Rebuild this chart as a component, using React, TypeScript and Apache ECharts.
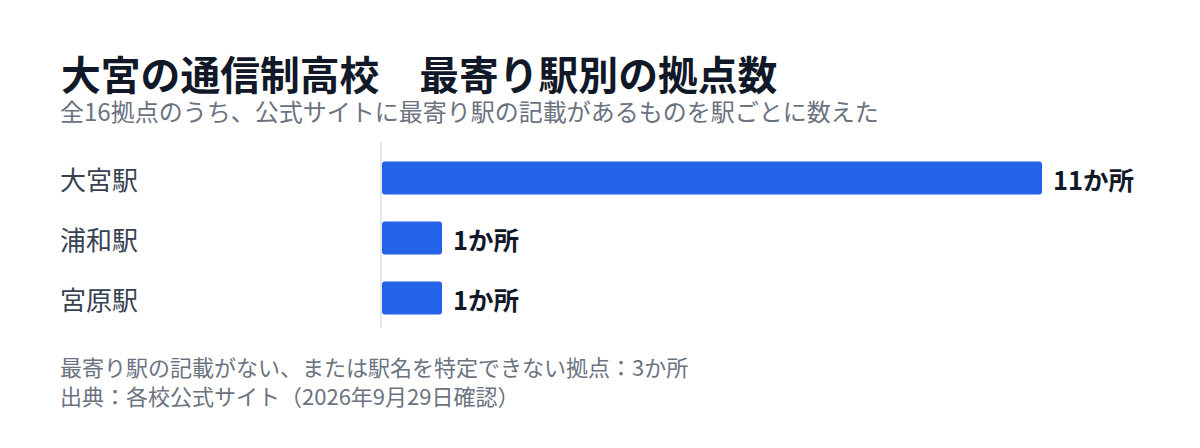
import { useEffect, useRef } from "react";
import * as echarts from "echarts";

const titleText = "大宮の通信制高校　最寄り駅別の拠点数";
const subtitleText = "全16拠点のうち、公式サイトに最寄り駅の記載があるものを駅ごとに数えた";
const noteLines = [
  "最寄り駅の記載がない、または駅名を特定できない拠点：3か所",
  "出典：各校公式サイト（2026年9月29日確認）"
];

const stations = ["大宮駅", "浦和駅", "宮原駅"];
const counts = [11, 1, 1];
const valueMax = 11;

const FONT = '"Noto Sans CJK JP", "Noto Sans", sans-serif';

export default function App() {
  const ref = useRef<HTMLDivElement | null>(null);

  useEffect(() => {
    if (!ref.current) return;
    const chart = echarts.init(ref.current, undefined, { renderer: "svg" });

    chart.setOption({
      animation: false,
      backgroundColor: "#ffffff",
      textStyle: { fontFamily: FONT },
      grid: { left: 382, width: 660, top: 148, height: 180 },
      xAxis: {
        type: "value",
        min: 0,
        max: valueMax,
        show: false
      },
      yAxis: {
        type: "category",
        inverse: true,
        data: stations,
        axisLine: { show: false },
        axisTick: { show: false },
        axisLabel: {
          align: "left",
          margin: 322,
          fontSize: 26,
          color: "#374151",
          fontFamily: FONT
        }
      },
      graphic: [
        {
          type: "text",
          left: 61,
          top: 52,
          style: {
            text: titleText,
            fontSize: 39.8,
            lineHeight: 40,
            fontWeight: "bold",
            fill: "#111827",
            fontFamily: FONT
          }
        },
        {
          type: "text",
          left: 60,
          top: 98,
          style: {
            text: subtitleText,
            fontSize: 24,
            lineHeight: 24,
            fill: "#6b7280",
            fontFamily: FONT
          }
        },
        {
          type: "line",
          shape: { x1: 381, y1: 142, x2: 381, y2: 328 },
          style: { stroke: "#e5e7eb", lineWidth: 2 }
        },
        ...noteLines.map((t, i) => ({
          type: "text",
          left: 60,
          top: 355 + i * 29,
          style: {
            text: t,
            fontSize: 22,
            fill: "#6b7280",
            fontFamily: FONT
          }
        }))
      ],
      series: [
        {
          type: "bar",
          data: counts,
          barWidth: 33,
          itemStyle: { color: "#2563eb", borderRadius: 3 },
          label: {
            show: true,
            position: "right",
            distance: 11,
            formatter: (p: { value: number }) => `${p.value}か所`,
            fontSize: 25.5,
            fontWeight: "bold",
            color: "#111827",
            fontFamily: FONT
          }
        }
      ]
    });

    return () => {
      chart.dispose();
    };
  }, []);

  return (
    <div
      ref={ref}
      style={{ position: "fixed", left: 0, top: 0, width: 1200, height: 448 }}
    />
  );
}
